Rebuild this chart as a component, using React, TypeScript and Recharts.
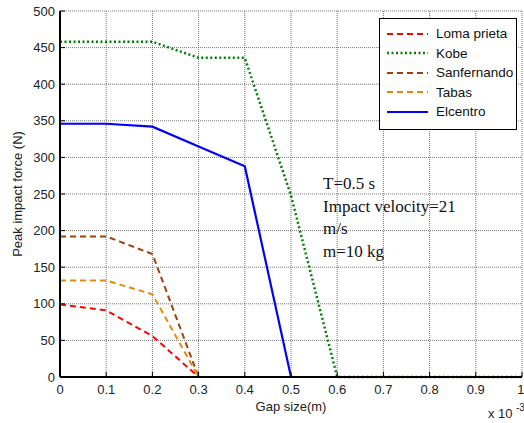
import { LineChart, Line, XAxis, YAxis, CartesianGrid, Legend, Label } from 'recharts';

// gap size in units of 1e-3 m
const gap = [0, 0.1, 0.2, 0.3, 0.4, 0.5, 0.6, 0.7, 0.8, 0.9, 1];
const lomaPrieta = [99, 91, 56, 0, 0, 0, 0, 0, 0, 0, 0];
const kobe = [458, 458, 458, 436, 436, 248, 0, 0, 0, 0, 0];
const sanfernando = [192, 192, 168, 0, 0, 0, 0, 0, 0, 0, 0];
const tabas = [132, 132, 113, 0, 0, 0, 0, 0, 0, 0, 0];
const elcentro = [346, 346, 342, 315, 288, 0, 0, 0, 0, 0, 0];

const xTicks = [0, 0.1, 0.2, 0.3, 0.4, 0.5, 0.6, 0.7, 0.8, 0.9, 1];
const yTicks = [0, 50, 100, 150, 200, 250, 300, 350, 400, 450, 500];

const notes = ['T=0.5 s', 'Impact velocity=21', 'm/s', 'm=10 kg'];

const series = [
    { key: 'lomaPrieta', name: 'Loma prieta', color: '#ff0000', dash: '6 4', width: 2 },
    { key: 'kobe', name: 'Kobe', color: '#008000', dash: '2 2.5', width: 2.5 },
    { key: 'sanfernando', name: 'Sanfernando', color: '#a0400a', dash: '6 4', width: 2 },
    { key: 'tabas', name: 'Tabas', color: '#e8880a', dash: '6 4', width: 2 },
    { key: 'elcentro', name: 'Elcentro', color: '#0000ff', dash: undefined, width: 2.2 },
];

const data = gap.map((g, i) => ({
    gap: g,
    lomaPrieta: lomaPrieta[i],
    kobe: kobe[i],
    sanfernando: sanfernando[i],
    tabas: tabas[i],
    elcentro: elcentro[i],
}));

const font = '"Liberation Sans", Arial, sans-serif';
const tickStyle = { fontSize: 13, fill: '#222', fontFamily: font };

function LegendBox() {
    return (
        <div
            style={{
                border: '1px solid #000',
                background: '#fff',
                width: 136,
                height: 105,
                boxSizing: 'content-box',
                paddingTop: 5,
                fontFamily: font,
                fontSize: 13.5,
                color: '#111',
            }}
        >
            {series.map((s) => (
                <div key={s.key} style={{ display: 'flex', alignItems: 'center', height: 19.5 }}>
                    <svg width={56} height={10} style={{ flex: 'none' }}>
                        <line
                            x1={7}
                            x2={48}
                            y1={5}
                            y2={5}
                            stroke={s.color}
                            strokeWidth={s.width}
                            strokeDasharray={s.dash}
                        />
                    </svg>
                    <span>{s.name}</span>
                </div>
            ))}
        </div>
    );
}

export default function App() {
    return (
        <div style={{ position: 'fixed', left: 0, top: 0, width: 524, height: 423, background: '#fff' }}>
            <LineChart width={524} height={423} data={data} margin={{ top: 11, right: 2, bottom: 16, left: 0 }}>
                <CartesianGrid stroke="#555" strokeDasharray="1 1" strokeOpacity={0.8} />
                <XAxis
                    dataKey="gap"
                    type="number"
                    domain={[0, 1]}
                    ticks={xTicks}
                    height={30}
                    tickSize={-5}
                    tickMargin={13}
                    tick={tickStyle}
                    stroke="#000"
                    axisLine={{ stroke: '#000', strokeWidth: 2 }}
                    tickLine={{ stroke: '#000' }}
                >
                    <Label
                        content={({ viewBox }: any) => (
                            <g fontFamily={font} fill="#222">
                                <text x={viewBox.x + viewBox.width / 2} y={viewBox.y + 34} textAnchor="middle" fontSize={13}>
                                    Gap size(m)
                                </text>
                                <text x={viewBox.x + viewBox.width - 34} y={viewBox.y + 41} fontSize={13}>
                                    x 10
                                </text>
                                <text x={viewBox.x + viewBox.width - 6} y={viewBox.y + 34} fontSize={10}>
                                    -3
                                </text>
                            </g>
                        )}
                    />
                </XAxis>
                <XAxis
                    xAxisId="top"
                    orientation="top"
                    type="number"
                    domain={[0, 1]}
                    ticks={xTicks}
                    height={0}
                    tickSize={-5}
                    tick={() => <g />}
                    axisLine={{ stroke: '#000' }}
                    tickLine={{ stroke: '#000' }}
                />
                <YAxis
                    type="number"
                    domain={[0, 500]}
                    ticks={yTicks}
                    width={60}
                    tickSize={-5}
                    tickMargin={10}
                    tick={tickStyle}
                    axisLine={{ stroke: '#000', strokeWidth: 2 }}
                    tickLine={{ stroke: '#000' }}
                >
                    <Label
                        content={({ viewBox }: any) => (
                            <text
                                x={17}
                                y={viewBox.y + viewBox.height / 2}
                                transform={`rotate(-90 17 ${viewBox.y + viewBox.height / 2})`}
                                textAnchor="middle"
                                dominantBaseline="central"
                                fontFamily={font}
                                fontSize={13}
                                fill="#222"
                            >
                                Peak impact force (N)
                            </text>
                        )}
                    />
                </YAxis>
                <YAxis
                    yAxisId="right"
                    orientation="right"
                    type="number"
                    domain={[0, 500]}
                    ticks={yTicks}
                    width={0}
                    tickSize={-5}
                    tick={() => <g />}
                    axisLine={{ stroke: '#000' }}
                    tickLine={{ stroke: '#000' }}
                />
                <Legend
                    layout="vertical"
                    align="center"
                    verticalAlign="middle"
                    content={() => <LegendBox />}
                    wrapperStyle={{ left: 379, top: 18, width: 138, height: 111 }}
                />
                {series.map((s) => (
                    <Line
                        key={s.key}
                        dataKey={s.key}
                        name={s.name}
                        type="linear"
                        stroke={s.color}
                        strokeWidth={s.width}
                        strokeDasharray={s.dash}
                        dot={false}
                        activeDot={false}
                        isAnimationActive={false}
                    />
                ))}
            </LineChart>
            <div
                style={{
                    position: 'absolute',
                    left: 323,
                    top: 173,
                    fontFamily: '"Liberation Serif", "DejaVu Serif", serif',
                    fontSize: 17,
                    lineHeight: '22.5px',
                    color: '#111',
                }}
            >
                {notes.map((n) => (
                    <div key={n}>{n}</div>
                ))}
            </div>
        </div>
    );
}
